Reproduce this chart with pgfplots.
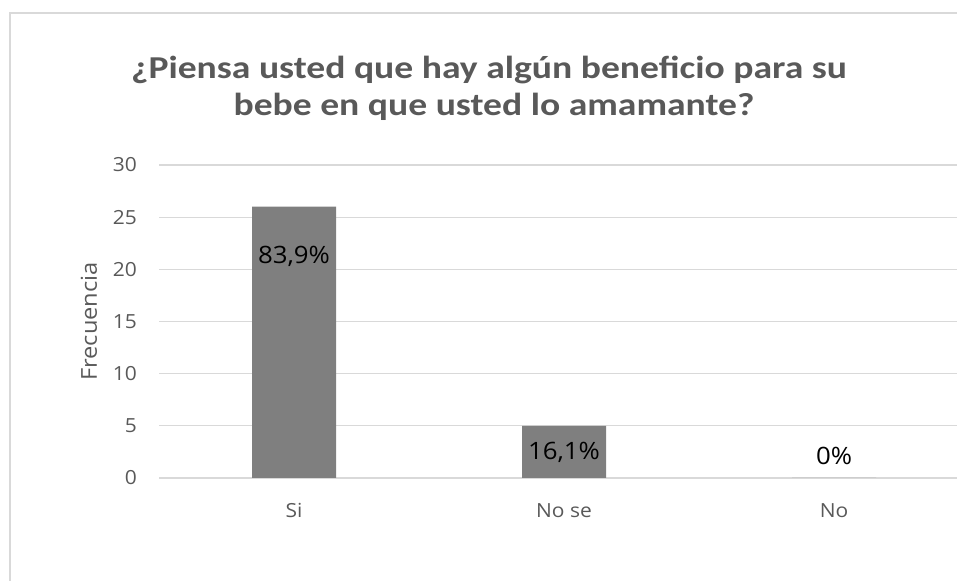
\documentclass[border=0pt]{standalone}
\usepackage{pgfplots}
\pgfplotsset{compat=1.18}
\usepackage{fontspec}
\setmainfont{Open Sans}[FakeStretch=1.08]
\newfontfamily\titlefont{Carlito}[FakeStretch=1.18]
\definecolor{txt}{HTML}{595959}
\definecolor{gridc}{HTML}{D9D9D9}
\definecolor{barc}{HTML}{7F7F7F}
\begin{document}
\begin{tikzpicture}[x=1bp,y=1bp]
\useasboundingbox (0,0) rectangle (957,581);
\draw[gridc, line width=1.3bp] (10,-20) -- (10,568) -- (1000,568);
\node[anchor=base, text=txt, inner sep=0pt, font=\titlefont\bfseries\fontsize{32}{37}\selectfont] at (489,502) {¿Piensa usted que hay algún beneficio para su};
\node[anchor=base, text=txt, inner sep=0pt, font=\titlefont\bfseries\fontsize{32}{37}\selectfont] at (494,465) {bebe en que usted lo amamante?};
\begin{axis}[
  at={(159bp,103bp)}, anchor=south west,
  scale only axis, width=810bp, height=313bp,
  xmin=-0.5, xmax=2.5, ymin=0, ymax=30,
  ytick={0,5,...,30},
  xtick={0,1,2}, xticklabels={Si,No se,No},
  /pgf/number format/assume math mode=true,
  axis x line*=bottom, axis y line*=left,
  y axis line style={draw=none},
  x axis line style={gridc, line width=1.3bp},
  major tick length=0pt,
  ymajorgrids,
  grid style={gridc, line width=1.3bp},
  tick label style={text=txt, font=\fontsize{19.5}{23}\selectfont},
  yticklabel style={inner sep=0pt, anchor=east, xshift=-22bp},
  xticklabel style={inner sep=0pt, anchor=north, yshift=-25bp},
  ylabel={Frecuencia},
  every axis y label/.style={at={(axis description cs:-0.0864,0.5)}, rotate=90, anchor=center, text=txt, font=\fontsize{22}{26}\selectfont},
  clip=false,
]
\addplot[ybar, bar width=84bp, fill=barc, draw=none] coordinates {(0,26) (1,5) (2,0)};
\addplot[draw=none, nodes near coords, point meta=explicit symbolic,
  nodes near coords align={center},
  every node near coord/.append style={text=black, font=\fontsize{24}{28}\selectfont}]
  coordinates {(0,21.2) [83,9\%] (1,2.5) [16,1\%] (2,2.1) [0\%]};
\end{axis}
\end{tikzpicture}
\end{document}
